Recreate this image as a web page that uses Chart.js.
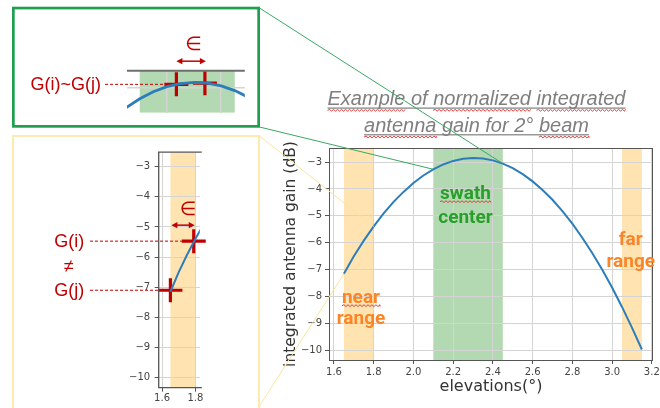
<!DOCTYPE html>
<html><head><meta charset="utf-8">
<script src="https://cdn.jsdelivr.net/npm/chart.js@4.4.0/dist/chart.umd.min.js"></script>
<style>
html,body{margin:0;padding:0;background:#fff;}
#wrap{position:relative;width:660px;height:408px;overflow:hidden;background:#fff;}
#wrap canvas{position:absolute;}
</style></head><body>
<div id="wrap">
<canvas id="main" width="400" height="408" style="left:260px;top:0px;width:400px;height:408px"></canvas>
<canvas id="zoomTop" width="248" height="121" style="left:12px;top:7px;width:248px;height:121px"></canvas>
<canvas id="zoomNear" width="201" height="271" style="left:14px;top:137px;width:201px;height:271px"></canvas>
<canvas id="overlay" width="660" height="408" style="left:0px;top:0px;width:660px;height:408px;pointer-events:none"></canvas>
</div>
<script>
// ---------------- data ----------------
const elevations = [1.65,1.70,1.75,1.80,1.85,1.90,1.95,2.00,2.05,2.10,2.15,2.20,2.25,2.30,2.35,2.40,2.45,2.50,2.55,2.60,2.65,2.70,2.75,2.80,2.85,2.90,2.95,3.00,3.05,3.10,3.15];
const gainDb = [-7.15,-6.50,-5.92,-5.39,-4.91,-4.48,-4.11,-3.78,-3.50,-3.27,-3.09,-2.96,-2.88,-2.85,-2.87,-2.94,-3.06,-3.23,-3.45,-3.72,-4.04,-4.40,-4.82,-5.29,-5.81,-6.38,-6.99,-7.66,-8.38,-9.15,-9.96];
const bandStart = [1.65, 2.10, 3.05];
const bandEnd = [1.80, 2.45, 3.15];
const bandLabels = [['near','range'],['swath','center'],['far','range']];
const mainXTicks = [1.6,1.8,2.0,2.2,2.4,2.6,2.8,3.0,3.2];
const mainYTicks = [-10,-9,-8,-7,-6,-5,-4,-3];
const nearXTicks = [1.6,1.8];
const nearYTicks = [-10,-9,-8,-7,-6,-5,-4,-3];
const topXTicks = [2.2,2.4];
const topYTicks = [-3];
const nearCrossX = [1.65,1.79];
const nearCrossY = [-7.10,-5.47];
const topCrossX = [2.235,2.34];
const topCrossY = [-2.90,-2.87];
const titleLines = ['Example of normalized integrated','antenna gain for 2\u00b0 beam'];
const flaggedWords = ['Example','normalized','integrated','antenna','beam','swath','near'];
const xAxisTitle = 'elevations(\u00b0)';
const yAxisTitle = 'integrated antenna gain (dB)';
const topLabel = 'G(i)~G(j)';
const nearLabels = ['G(i)','\u2260','G(j)'];
const epsLabel = '\u2208';

// ---------------- style ----------------
const S = {
  line:'#2c7dba', orange:'rgba(255,165,0,0.3)', green:'rgba(0,128,0,0.3)',
  grid:'#d4d4d4', spine:'#555', tickTxt:'#444', axisTxt:'#333', red:'#c00000',
  txtGreen:'#2a9e2a', txtOrange:'#fb8526', title:'#7f7f7f', squig:'#e23b3b'
};
const bandFill = [S.orange, S.green, S.orange];
Chart.defaults.font.family = '"DejaVu Sans", sans-serif';

const curve = elevations.map((x,i)=>({x:x, y:gainDb[i]}));
const gainAt = v => gainDb[elevations.findIndex(e=>Math.abs(e-v)<1e-6)];
const fmtMinus = v => (v<0?'\u2212':'') + Math.abs(v);

function squiggle(ctx, x1, x2, y){
  ctx.save(); ctx.strokeStyle=S.squig; ctx.lineWidth=1; ctx.beginPath();
  ctx.moveTo(x1,y); let up=true;
  for(let x=x1;x<x2;x+=2){ ctx.lineTo(Math.min(x+2,x2), y+(up?-0.9:0.9)); up=!up; }
  ctx.stroke(); ctx.restore();
}
function dblArrow(ctx, x1, x2, y){
  ctx.save(); ctx.strokeStyle=S.red; ctx.fillStyle=S.red; ctx.lineWidth=1.5;
  ctx.beginPath(); ctx.moveTo(x1+4,y); ctx.lineTo(x2-4,y); ctx.stroke();
  ctx.beginPath(); ctx.moveTo(x1,y); ctx.lineTo(x1+6,y-3.2); ctx.lineTo(x1+6,y+3.2); ctx.closePath(); ctx.fill();
  ctx.beginPath(); ctx.moveTo(x2,y); ctx.lineTo(x2-6,y-3.2); ctx.lineTo(x2-6,y+3.2); ctx.closePath(); ctx.fill();
  ctx.restore();
}
function dashed(ctx, x1, x2, y){
  ctx.save(); ctx.strokeStyle=S.red; ctx.lineWidth=1; ctx.setLineDash([3,2]);
  ctx.beginPath(); ctx.moveTo(x1,y); ctx.lineTo(x2,y); ctx.stroke(); ctx.restore();
}
function fillBands(chart){
  const {ctx, chartArea:a, scales:{x}} = chart;
  ctx.save(); ctx.beginPath(); ctx.rect(a.left,a.top,a.right-a.left,a.bottom-a.top); ctx.clip();
  bandStart.forEach((b,i)=>{
    const x1=x.getPixelForValue(b), x2=x.getPixelForValue(bandEnd[i]);
    ctx.fillStyle=bandFill[i]; ctx.fillRect(x1,a.top,x2-x1,a.bottom-a.top);
  });
  ctx.restore();
}
function axis(o){
  return {
    type:'linear', min:o.min, max:o.max,
    afterBuildTicks: s => { s.ticks = o.ticks.map(v=>({value:v})); },
    afterFit: s => { if(o.w!==undefined) s.width=o.w; if(o.h!==undefined) s.height=o.h;
                     s.paddingLeft=0; s.paddingRight=0; s.paddingTop=0; s.paddingBottom=0; },
    grid:{color:S.grid, lineWidth:o.gw||1, tickColor:S.spine, tickLength:4, drawTicks:o.showTicks!==false},
    border:{display:false},
    ticks:{display:o.showTicks!==false, autoSkip:false, maxRotation:0, padding:o.pad||3,
           color:S.tickTxt, font:{size:10}, callback:o.fmt},
    title:o.title ? {display:true, text:o.title, color:S.axisTxt, font:{size:o.tsize}, padding:o.tpad} : {display:false}
  };
}
const common = {responsive:false, animation:false, devicePixelRatio:1,
  plugins:{legend:{display:false}, tooltip:{enabled:false}}, events:[]};

// ---------------- main chart ----------------
const mainDecor = {
  id:'mainDecor',
  beforeDraw: fillBands,
  afterDatasetsDraw(chart){
    const {ctx, chartArea:a} = chart;
    ctx.save(); ctx.strokeStyle=S.spine; ctx.lineWidth=1;
    ctx.strokeRect(Math.round(a.left)+0.5, Math.round(a.top)+0.5, Math.round(a.right-a.left)-1, Math.round(a.bottom-a.top));
    ctx.restore();
  },
  afterDraw(chart){
    const {ctx, scales:{x,y}} = chart;
    const anchors = [{x:1.736, y:[-8.22,-9.03], c:S.txtOrange},
                     {x:2.262, y:[-4.36,-5.27], c:S.txtGreen},
                     {x:3.094, y:[-6.09,-6.90], c:S.txtOrange}];
    ctx.save(); ctx.font='bold 19px Roboto'; ctx.textAlign='center'; ctx.textBaseline='alphabetic';
    bandLabels.forEach((lines,i)=>{
      const an = anchors[i];
      lines.forEach((t,j)=>{
        const px=x.getPixelForValue(an.x), py=y.getPixelForValue(an.y[j]);
        ctx.fillStyle=an.c; ctx.fillText(t,px,py);
        if(flaggedWords.includes(t)){ const w=ctx.measureText(t).width; squiggle(ctx,px-w/2,px+w/2,py+3); }
      });
    });
    ctx.restore();
    // title
    ctx.save(); ctx.font='italic 20px "Liberation Sans"'; ctx.fillStyle=S.title; ctx.textAlign='left'; ctx.textBaseline='alphabetic';
    const cx=216.5, base=[105.3,132];
    titleLines.forEach((line,i)=>{
      const w=ctx.measureText(line).width, x0=cx-w/2, by=base[i];
      ctx.fillText(line,x0,by);
      ctx.fillRect(x0,by+2.2,w,1.2);
      let xx=x0; const sp=ctx.measureText(' ').width;
      line.split(' ').forEach(word=>{
        const ww=ctx.measureText(word).width;
        if(flaggedWords.includes(word)) squiggle(ctx,xx,xx+ww,by+5);
        xx+=ww+sp;
      });
    });
    ctx.restore();
  }
};
const mainChart = new Chart(document.getElementById('main'), {
  type:'line',
  data:{datasets:[{data:curve, borderColor:S.line, borderWidth:2, pointRadius:0, tension:0, fill:false}]},
  options:Object.assign({}, common, {
    layout:{padding:{left:0, top:148, right:7, bottom:0}},
    scales:{
      x: axis({min:1.575, max:3.206, ticks:mainXTicks, h:48, pad:2, fmt:v=>v.toFixed(1),
               title:xAxisTitle, tsize:16, tpad:{top:0,bottom:11.7}}),
      y: axis({min:-10.35, max:-2.48, ticks:mainYTicks, w:69, pad:3, fmt:fmtMinus,
               title:yAxisTitle, tsize:15.5, tpad:{top:21.7,bottom:0}})
    }
  }),
  plugins:[mainDecor]
});

// ---------------- top zoom (swath center) ----------------
const topDecor = {
  id:'topDecor',
  beforeDraw: fillBands,
  afterDatasetsDraw(chart){
    const {ctx, chartArea:a} = chart;
    ctx.save(); ctx.strokeStyle='#6f6f6f'; ctx.lineWidth=2;
    ctx.beginPath(); ctx.moveTo(a.left,a.top); ctx.lineTo(a.right,a.top); ctx.stroke(); ctx.restore();
  },
  afterDraw(chart){
    const {ctx, scales:{x,y}} = chart;
    const p1={x:x.getPixelForValue(topCrossX[0]), y:y.getPixelForValue(topCrossY[0])};
    const p2={x:x.getPixelForValue(topCrossX[1]), y:y.getPixelForValue(topCrossY[1])};
    ctx.save(); ctx.font='18px "Liberation Sans"'; ctx.fillStyle=S.red; ctx.textAlign='right'; ctx.textBaseline='middle';
    ctx.fillText(topLabel, 89, p1.y+1);
    dashed(ctx, 93, p1.x-12, p1.y);
    const ay=Math.min(p1.y,p2.y)-22;
    dblArrow(ctx, p1.x, p2.x+1, ay);
    ctx.font='19px "DejaVu Sans"'; ctx.textAlign='center';
    ctx.fillText(epsLabel, (p1.x+p2.x)/2+3, ay-16);
    ctx.restore();
  }
};
new Chart(document.getElementById('zoomTop'), {
  type:'line',
  data:{datasets:[
    {data:curve, borderColor:S.line, borderWidth:2.8, pointRadius:0, tension:0, fill:false},
    {type:'scatter', data:topCrossX.map((v,i)=>({x:v,y:topCrossY[i]})), pointStyle:'cross', pointRadius:12,
     pointBorderWidth:3.2, pointBorderColor:S.red, borderColor:S.red, showLine:false, clip:false}
  ]},
  options:Object.assign({}, common, {
    layout:{padding:{left:115, top:63.7, right:8.3, bottom:8.7}},
    scales:{
      x: axis({min:2.053, max:2.487, ticks:topXTicks, h:0, showTicks:false, gw:1.5}),
      y: axis({min:-3.63, max:-2.55, ticks:topYTicks, w:0, showTicks:false, gw:1.5})
    }
  }),
  plugins:[topDecor]
});

// ---------------- left zoom (near range) ----------------
const nearDecor = {
  id:'nearDecor',
  beforeDraw: fillBands,
  afterDatasetsDraw(chart){
    const {ctx, chartArea:a} = chart;
    ctx.save(); ctx.strokeStyle=S.spine; ctx.lineWidth=1.3;
    ctx.beginPath();
    ctx.moveTo(a.right+2, a.top); ctx.lineTo(a.left, a.top); ctx.lineTo(a.left, a.bottom); ctx.lineTo(a.right+2, a.bottom);
    ctx.stroke(); ctx.restore();
  },
  afterDraw(chart){
    const {ctx, scales:{x,y}} = chart;
    const pi={x:x.getPixelForValue(nearCrossX[1]), y:y.getPixelForValue(nearCrossY[1])};
    const pj={x:x.getPixelForValue(nearCrossX[0]), y:y.getPixelForValue(nearCrossY[0])};
    ctx.save(); ctx.font='18px "Liberation Sans"'; ctx.fillStyle=S.red; ctx.textBaseline='middle';
    ctx.textAlign='right';
    ctx.fillText(nearLabels[0], 70.3, pi.y+1);
    ctx.fillText(nearLabels[2], 70.3, pj.y+1);
    ctx.textAlign='center';
    ctx.fillText(nearLabels[1], 55, (pi.y+pj.y)/2+1);
    dashed(ctx, 76, pi.x-12, pi.y);
    dashed(ctx, 76, pj.x-12, pj.y);
    const ay=pi.y-16;
    dblArrow(ctx, pj.x+1, pi.x+1, ay);
    ctx.font='19px "DejaVu Sans"';
    ctx.fillText(epsLabel, (pi.x+pj.x)/2+6, ay-15);
    ctx.restore();
  }
};
new Chart(document.getElementById('zoomNear'), {
  type:'line',
  data:{datasets:[
    {data:curve, borderColor:S.line, borderWidth:2, pointRadius:0, tension:0, fill:false},
    {type:'scatter', data:nearCrossX.map((v,i)=>({x:v,y:nearCrossY[i]})), pointStyle:'cross', pointRadius:12,
     pointBorderWidth:3.2, pointBorderColor:S.red, borderColor:S.red, showLine:false, clip:false}
  ]},
  options:Object.assign({}, common, {
    layout:{padding:{left:114.7, top:7.3, right:0, bottom:0}},
    scales:{
      x: axis({min:1.5799, max:1.8263, ticks:nearXTicks, h:20.3, pad:1, fmt:v=>v.toFixed(1)}),
      y: axis({min:-10.334, max:-2.518, ticks:nearYTicks, w:30, pad:4.5, fmt:fmtMinus})
    }
  }),
  plugins:[nearDecor]
});

// ---------------- overlay: frames and connectors ----------------
(function(){
  const ov=document.getElementById('overlay').getContext('2d');
  const mx=v=>260+mainChart.scales.x.getPixelForValue(v);
  const my=v=>mainChart.scales.y.getPixelForValue(v);
  function seg(c,x1,y1,x2,y2){ ov.strokeStyle=c; ov.lineWidth=1; ov.beginPath(); ov.moveTo(x1,y1); ov.lineTo(x2,y2); ov.stroke(); }
  ov.strokeStyle='#fcebb0'; ov.lineWidth=2; ov.strokeRect(13,136,246,300);
  ov.strokeStyle='#1f9e50'; ov.lineWidth=2.7; ov.strokeRect(13.35,8.05,245.3,118.3);
  seg('#3aa862',259.5,8,mx(bandEnd[1]),my(gainAt(bandEnd[1])));
  seg('#3aa862',259.5,127,mx(bandStart[1]),my(gainAt(bandStart[1])));
  seg('#fbe3a0',259.5,136,mx(bandEnd[0]),my(gainAt(bandEnd[0])));
  seg('#fbe3a0',259.5,406,mx(bandStart[0]),my(gainAt(bandStart[0])));
})();
</script>
</body></html>
